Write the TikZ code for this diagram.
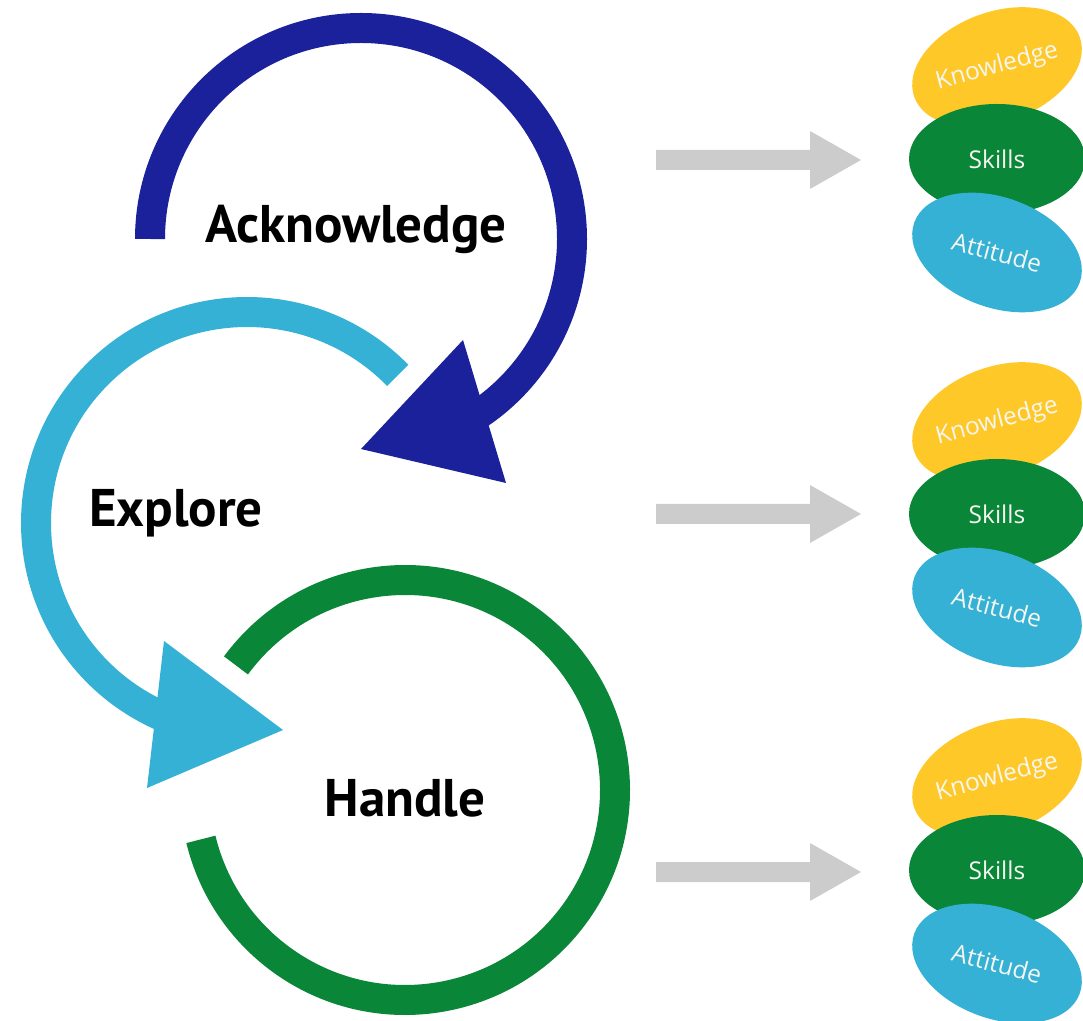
\documentclass[tikz,border=0pt]{standalone}
\usepackage{fontspec}
\setmainfont{PT Sans}
\newfontfamily\ellfont{Open Sans}
\usetikzlibrary{shapes.geometric}
\definecolor{dblue}{RGB}{27,32,155}
\definecolor{lblue}{RGB}{53,177,214}
\definecolor{dgreen}{RGB}{10,134,57}
\definecolor{kyellow}{RGB}{255,200,41}
\definecolor{arrgray}{RGB}{204,204,204}
\definecolor{elltxt}{RGB}{246,246,240}
\begin{document}
\begin{tikzpicture}[x=1pt,y=1pt,
  ring/.style={line width=30pt},
  ellbox/.style={ellipse, minimum width=176pt, minimum height=110pt, inner sep=0pt},
  elltext/.style={font=\ellfont\fontsize{24.5}{28}\selectfont, text=elltxt, inner sep=0pt},
  steplabel/.style={font=\bfseries\fontsize{53}{58}\selectfont, anchor=base, inner sep=0pt},
  grayarrow/.pic={\fill[arrgray] (0,-10) -- (154,-10) -- (154,-29) -- (205,0) -- (154,29) -- (154,10) -- (0,10) -- cycle;}]
\path[use as bounding box, clip] (0,0) rectangle (1083,1020);
% loops
\draw[ring, dblue] (361,781) ++(180:211) arc[start angle=180, end angle=-60, radius=211];
\fill[dblue] (463,680) -- (361,571) -- (506,537) -- cycle;
\draw[ring, lblue] (247,497) ++(44.4:211) arc[start angle=44.4, end angle=250, radius=211];
\fill[lblue] (164,379) -- (283,290) -- (147,232) -- cycle;
\draw[ring, dgreen] (405,230) ++(143.6:210) arc[start angle=143.6, end angle=-166.4, radius=210];
% labels
\node[steplabel] (ack) at (356,777) {Acknowledge};
\node[steplabel] (exp) at (176,493) {Explore};
\node[steplabel] (han) at (405,204) {Handle};
% arrows
\pic at (656,860) {grayarrow};
\pic at (656,506) {grayarrow};
\pic at (656,148) {grayarrow};
% ellipse groups
\foreach \i/\dy in {1/0, 2/355, 3/711}{
  \node[ellbox, fill=kyellow, rotate=20] (k\i) at (997,953-\dy) {};
  \node[elltext, rotate=15] (kt\i) at (k\i.center) {Knowledge};
  \node[ellbox, fill=dgreen] (s\i) at (997,861-\dy) {};
  \node[elltext] (st\i) at (s\i.center) {Skills};
  \node[ellbox, fill=lblue, rotate=-20] (a\i) at (997,767.5-\dy) {};
  \node[elltext, rotate=-15] (at\i) at (a\i.center) {Attitude};
}
\end{tikzpicture}
\end{document}
